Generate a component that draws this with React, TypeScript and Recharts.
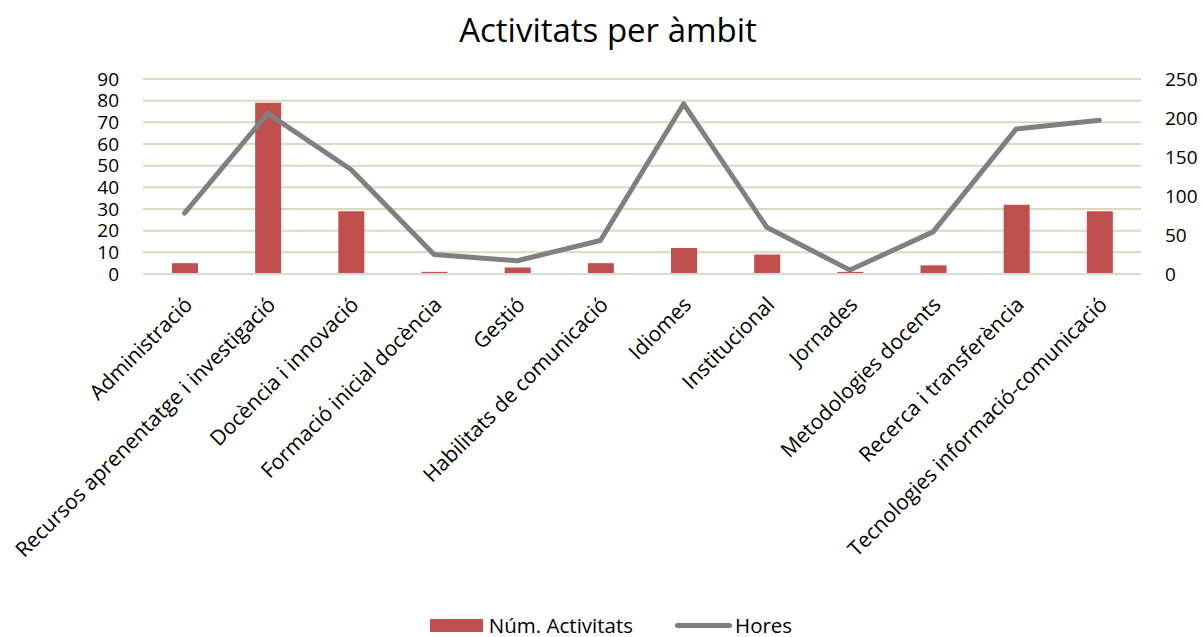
import { ComposedChart, Bar, Line, XAxis, YAxis, CartesianGrid, Legend } from "recharts";

const categories = [
  "Administració",
  "Recursos aprenentatge i investigació",
  "Docència i innovació",
  "Formació inicial docència",
  "Gestió",
  "Habilitats de comunicació",
  "Idiomes",
  "Institucional",
  "Jornades",
  "Metodologies docents",
  "Recerca i transferència",
  "Tecnologies informació-comunicació",
];
const activitats = [5, 79, 29, 1, 3, 5, 12, 9, 1, 4, 32, 29];
const hores = [78, 206, 134, 25, 17, 43, 218, 60, 5, 54, 186, 197];
const leftTicks = [0, 10, 20, 30, 40, 50, 60, 70, 80, 90];
const rightTicks = [0, 50, 100, 150, 200, 250];

const data = categories.map((name, i) => ({ name, activitats: activitats[i], hores: hores[i] }));

const FONT = "'Open Sans', 'Noto Sans', sans-serif";
const BAR = "#C0504D";
const LINE = "#808080";

const AngledTick = ({ x, y, payload }: any) => (
  <text
    x={x + 9}
    y={y + 24}
    textAnchor="end"
    transform={`rotate(-45, ${x + 9}, ${y + 24})`}
    fontSize={21}
    fill="#000"
    fontFamily={FONT}
  >
    {payload.value}
  </text>
);

const LegendContent = () => (
  <div
    style={{
      display: "flex",
      justifyContent: "center",
      alignItems: "center",
      fontFamily: FONT,
      fontSize: 20.5,
      color: "#000",
      height: 40,
      paddingLeft: 20,
      transform: "translateY(8px)",
    }}
  >
    <span style={{ display: "inline-block", width: 53, height: 13, background: BAR, marginRight: 6 }} />
    <span style={{ marginRight: 42 }}>Núm. Activitats</span>
    <span style={{ display: "inline-block", width: 57, height: 5, borderRadius: 3, background: LINE, marginRight: 3 }} />
    <span>Hores</span>
  </div>
);

export default function App() {
  return (
    <div style={{ position: "absolute", left: 0, top: 0, width: 1202, height: 637, background: "#fff" }}>
      <div
        style={{
          position: "absolute",
          top: 7,
          left: 0,
          width: 1202,
          textAlign: "center",
          fontFamily: FONT,
          fontSize: 33,
          color: "#000",
          paddingLeft: 14,
          boxSizing: "border-box",
        }}
      >
        Activitats per àmbit
      </div>
      <ComposedChart
        width={1202}
        height={637}
        data={data}
        margin={{ top: 79, right: 0, bottom: 0, left: 0 }}
      >
        <CartesianGrid yAxisId="left" vertical={false} stroke="#DDD8C0" strokeWidth={2} />
        <XAxis
          dataKey="name"
          interval={0}
          tick={<AngledTick />}
          tickLine={false}
          axisLine={{ stroke: "#D9D9D9", strokeWidth: 2 }}
          height={323}
        />
        <YAxis
          yAxisId="left"
          domain={[0, 90]}
          ticks={leftTicks}
          width={143}
          tickLine={false}
          axisLine={false}
          tickMargin={18}
          tick={{ fontSize: 19, fill: "#000", fontFamily: FONT }}
          interval={0}
        />
        <YAxis
          yAxisId="right"
          orientation="right"
          domain={[0, 250]}
          ticks={rightTicks}
          width={61}
          tickLine={false}
          axisLine={false}
          tickMargin={18}
          tick={{ fontSize: 19, fill: "#000", fontFamily: FONT }}
          interval={0}
        />
        <Legend verticalAlign="bottom" content={<LegendContent />} wrapperStyle={{ height: 40 }} />
        <Bar yAxisId="left" dataKey="activitats" name="Núm. Activitats" fill={BAR} barSize={26} isAnimationActive={false} />
        <Line
          yAxisId="right"
          dataKey="hores"
          name="Hores"
          stroke={LINE}
          strokeWidth={5}
          dot={false}
          strokeLinecap="round"
          strokeLinejoin="round"
          isAnimationActive={false}
        />
      </ComposedChart>
    </div>
  );
}
